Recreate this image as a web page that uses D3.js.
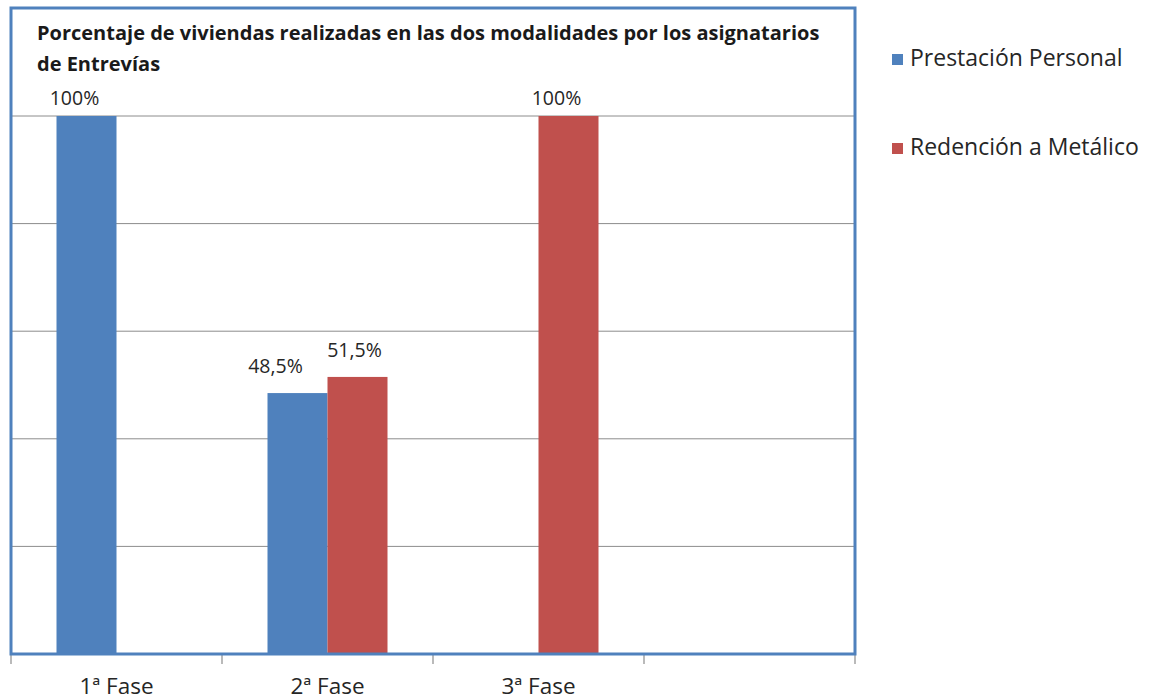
<!DOCTYPE html>
<html>
<head>
<meta charset="utf-8">
<script src="https://cdn.jsdelivr.net/npm/d3@7"></script>
<style>
  body { margin: 0; background: #fff; }
  text { font-family: "Open Sans", "Noto Sans", sans-serif; }
</style>
</head>
<body>
<div id="vis1"></div>
<script>
// data
const categories = ["1ª Fase", "2ª Fase", "3ª Fase", ""];
const series = ["Prestación Personal", "Redención a Metálico"];
const prestacion = [100, 48.5, null, null];
const redencion = [null, 51.5, 100, null];
const valueLabels = [["100%", "48,5%", "", ""], ["", "51,5%", "100%", ""]];
const colors = ["#4F81BD", "#C0504D"];
const yTicks = [0, 20, 40, 60, 80, 100];

const WIDTH = 1156, HEIGHT = 700;
const PLOT = {left: 11, right: 855, top: 116, bottom: 654};

const svg = d3.select("#vis1")
  .append("svg")
    .attr("width", WIDTH)
    .attr("height", HEIGHT);

const x = d3.scaleBand()
  .domain(categories)
  .range([PLOT.left, PLOT.right]);

const xSub = d3.scaleBand()
  .domain(series)
  .range([x.bandwidth() / 2 - 60, x.bandwidth() / 2 + 60]);

const y = d3.scaleLinear()
  .domain([0, 100])
  .range([PLOT.bottom, PLOT.top]);

// gridlines
svg.append("g")
  .selectAll("line")
  .data(yTicks.filter(d => d > 0))
  .enter()
  .append("line")
    .attr("x1", PLOT.left)
    .attr("x2", PLOT.right)
    .attr("y1", d => y(d))
    .attr("y2", d => y(d))
    .attr("stroke", "#8c8c8c")
    .attr("stroke-width", 1);

// bars + labels
const allValues = [prestacion, redencion];
series.forEach((s, i) => {
  const rows = categories.map((c, j) => ({cat: c, v: allValues[i][j], lab: valueLabels[i][j],
      paired: prestacion[j] != null && redencion[j] != null}))
    .filter(d => d.v != null);
  svg.append("g")
    .selectAll("rect")
    .data(rows)
    .enter()
    .append("rect")
      .attr("x", d => x(d.cat) + xSub(s))
      .attr("y", d => y(d.v))
      .attr("width", xSub.bandwidth())
      .attr("height", d => y(0) - y(d.v))
      .attr("fill", colors[i]);

  // labels sit left a little, the left one of a pair more so
  svg.append("g")
    .selectAll("text")
    .data(rows)
    .enter()
    .append("text")
      .attr("x", d => x(d.cat) + xSub(s) + xSub.bandwidth() / 2 - (d.paired ? (i == 0 ? 22 : 3) : 12))
      .attr("y", d => Math.max(y(d.v) - 20, PLOT.top - 11))
      .attr("text-anchor", "middle")
      .attr("font-size", 19.5)
      .attr("fill", "#262626")
      .text(d => d.lab);
});

// x axis
const xAxis = svg.append("g")
  .attr("transform", "translate(0," + PLOT.bottom + ")")
  .call(d3.axisBottom(x).tickSize(0).tickFormat(d => d));
xAxis.select(".domain").remove();
xAxis.selectAll("text")
  .attr("dy", 0)
  .attr("y", 40)
  .attr("font-size", 22.5)
  .attr("fill", "#262626")
  .style("font-family", "'Open Sans', sans-serif");

// tick marks at band edges
const edges = categories.map(c => x(c)).concat([PLOT.right]);
svg.append("g")
  .selectAll("line")
  .data(edges)
  .enter()
  .append("line")
    .attr("x1", d => d)
    .attr("x2", d => d)
    .attr("y1", PLOT.bottom)
    .attr("y2", PLOT.bottom + 10)
    .attr("stroke", "#8c8c8c")
    .attr("stroke-width", 1.2);

// plot border
svg.append("rect")
  .attr("x", PLOT.left)
  .attr("y", 8)
  .attr("width", PLOT.right - PLOT.left)
  .attr("height", PLOT.bottom - 8)
  .attr("fill", "none")
  .attr("stroke", "#4F81BD")
  .attr("stroke-width", 3);

// title
const title = svg.append("text")
  .attr("x", 37)
  .attr("y", 40)
  .attr("font-size", 20)
  .attr("font-weight", "bold")
  .attr("fill", "#1a1a1a");
title.append("tspan").attr("x", 37)
  .text("Porcentaje de viviendas realizadas en las dos modalidades por los asignatarios");
title.append("tspan").attr("x", 37).attr("dy", 31).text("de Entrevías");

// legend
const legend = svg.append("g")
  .selectAll("g")
  .data(series)
  .enter()
  .append("g")
    .attr("transform", (d, i) => "translate(892," + (54 + i * 89) + ")");
legend.append("rect")
  .attr("width", 11)
  .attr("height", 11)
  .attr("fill", (d, i) => colors[i]);
legend.append("text")
  .attr("x", 18)
  .attr("y", 12)
  .attr("font-size", 23)
  .attr("fill", "#262626")
  .text(d => d);
</script>
</body>
</html>
